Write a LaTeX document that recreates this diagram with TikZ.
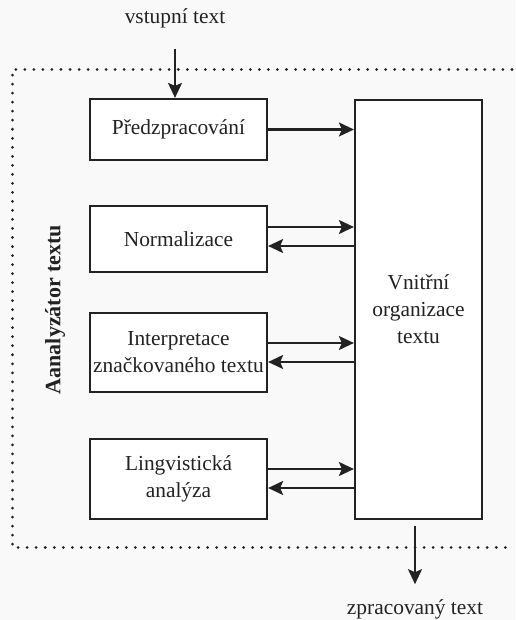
\documentclass[tikz,border=0pt]{standalone}
\usepackage{fontspec}
\setmainfont{Liberation Serif}
\usetikzlibrary{arrows.meta}
\definecolor{ink}{HTML}{222222}
\definecolor{bgc}{HTML}{F9F9F9}
\begin{document}
\begin{tikzpicture}[x=0.5pt,y=-0.5pt,
  every node/.style={text=ink,font=\fontsize{10.7pt}{13.5pt}\selectfont},
  box/.style={draw=ink,fill=white,line width=1.1pt,inner sep=0pt,align=center,minimum width=88.5pt},
  arr/.style={draw=ink,line width=1.1pt,-{Stealth[length=7.5pt,width=7pt,inset=1.5pt]}},
  frame/.style={draw=ink,line width=1.5pt,dash pattern=on 0.01pt off 4.5pt,line cap=round}]
\fill[bgc] (0,0) rectangle (515,620);
\useasboundingbox (0,0) rectangle (515,620);
% frame
\draw[frame] (512,70) -- (12,70) -- (12,547) -- (512,547);
% nodes
\node (in) at (175,18) {vstupní text};
\node[box,minimum height=30.5pt] (pre) at (178.5,129.5) {Předzpracování};
\node[box,minimum height=33pt] (norm) at (178.5,239) {Normalizace};
\node[box,minimum height=39.5pt] (interp) at (178.5,352.5) {Interpretace\\značkovaného textu};
\node[box,minimum height=40pt] (ling) at (178.5,479) {Lingvistická\\analýza};
\node[box,minimum width=63.5pt,minimum height=209.5pt] (big) at (418.5,309.5) {Vnitřní\\organizace\\textu};
\node (out) at (415,609) {zpracovaný text};
\node[rotate=90,font=\fontsize{11pt}{13.5pt}\selectfont\bfseries] (lab) at (55,309.5) {Aanalyzátor textu};
% connectors
\draw[arr] ([yshift=-7pt]in.south) -- (in.south |- pre.north);
\draw[arr] (pre.east) -- (pre.east -| big.west);
\draw[arr] ([yshift=6pt]norm.east) -- ([yshift=6pt]norm.east -| big.west);
\draw[arr] ([yshift=-3.5pt]norm.east -| big.west) -- ([yshift=-3.5pt]norm.east);
\draw[arr] ([yshift=4.75pt]interp.east) -- ([yshift=4.75pt]interp.east -| big.west);
\draw[arr] ([yshift=-4.75pt]interp.east -| big.west) -- ([yshift=-4.75pt]interp.east);
\draw[arr] ([yshift=5pt]ling.east) -- ([yshift=5pt]ling.east -| big.west);
\draw[arr] ([yshift=-4.5pt]ling.east -| big.west) -- ([yshift=-4.5pt]ling.east);
\draw[arr] ([yshift=-3pt]big.south -| out.north) -- ([yshift=4pt]out.north);
\end{tikzpicture}
\end{document}
